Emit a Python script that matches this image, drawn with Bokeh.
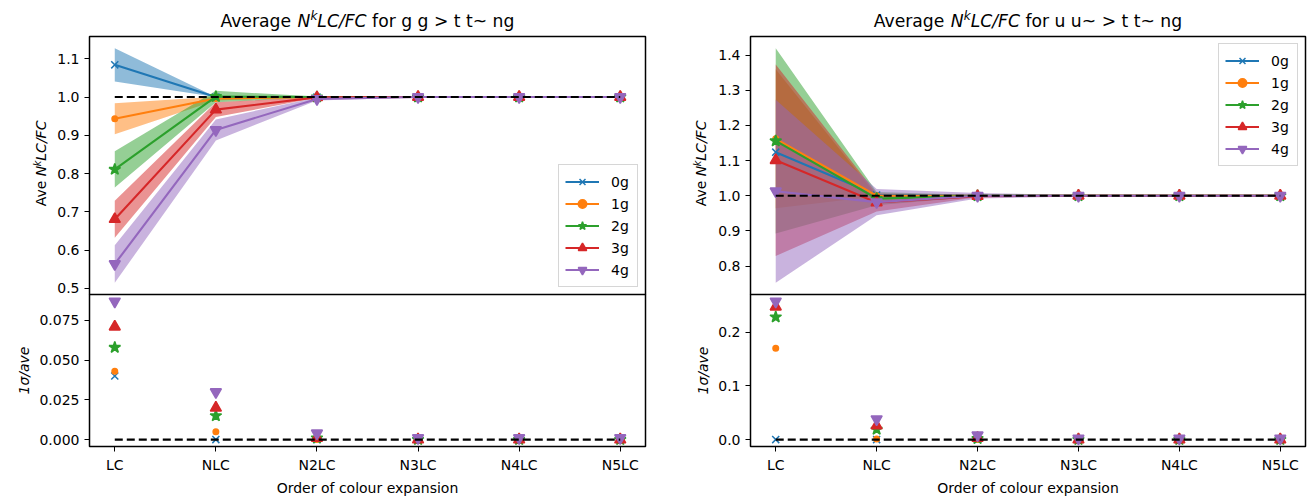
import math
from bokeh.plotting import figure
from bokeh.models import (Range1d, Label, Legend, LegendItem, SingleIntervalTicker,
                          FixedTicker, PrintfTickFormatter)
from bokeh.layouts import column, row
from bokeh.embed import file_html
from bokeh.resources import INLINE

# ---------------- data ----------------
orders = ["LC", "NLC", "N2LC", "N3LC", "N4LC", "N5LC"]
x_pos = [0, 1, 2, 3, 4, 5]
series_names = ["0g", "1g", "2g", "3g", "4g"]

# g g > t t~ ng : average N^kLC/FC
gg_ave_0g = [1.084, 1.000, 1.000, 1.000, 1.000, 1.000]
gg_ave_1g = [0.943, 0.996, 1.000, 1.000, 1.000, 1.000]
gg_ave_2g = [0.811, 1.001, 1.000, 1.000, 1.000, 1.000]
gg_ave_3g = [0.681, 0.967, 0.999, 1.000, 1.000, 1.000]
gg_ave_4g = [0.564, 0.914, 0.995, 1.000, 1.000, 1.000]
# g g > t t~ ng : 1 sigma / ave
gg_rel_0g = [0.040, 0.000, 0.000, 0.000, 0.000, 0.000]
gg_rel_1g = [0.043, 0.005, 0.000, 0.000, 0.000, 0.000]
gg_rel_2g = [0.058, 0.015, 0.001, 0.000, 0.000, 0.000]
gg_rel_3g = [0.071, 0.020, 0.001, 0.000, 0.000, 0.000]
gg_rel_4g = [0.087, 0.030, 0.004, 0.001, 0.001, 0.001]

# u u~ > t t~ ng : average N^kLC/FC
uu_ave_0g = [1.124, 1.002, 1.000, 1.000, 1.000, 1.000]
uu_ave_1g = [1.162, 1.000, 1.000, 1.000, 1.000, 1.000]
uu_ave_2g = [1.156, 0.992, 1.000, 1.000, 1.000, 1.000]
uu_ave_3g = [1.101, 0.981, 0.999, 1.000, 1.000, 1.000]
uu_ave_4g = [1.013, 0.982, 1.000, 1.000, 1.000, 1.000]
# u u~ > t t~ ng : 1 sigma / ave
uu_rel_0g = [0.000, 0.000, 0.000, 0.000, 0.000, 0.000]
uu_rel_1g = [0.170, 0.001, 0.000, 0.000, 0.000, 0.000]
uu_rel_2g = [0.228, 0.019, 0.002, 0.000, 0.000, 0.000]
uu_rel_3g = [0.247, 0.026, 0.003, 0.000, 0.000, 0.000]
uu_rel_4g = [0.257, 0.038, 0.008, 0.002, 0.002, 0.002]

ref_ratio = 1.0
ref_zero = 0.0

gg_ave = [gg_ave_0g, gg_ave_1g, gg_ave_2g, gg_ave_3g, gg_ave_4g]
gg_rel = [gg_rel_0g, gg_rel_1g, gg_rel_2g, gg_rel_3g, gg_rel_4g]
uu_ave = [uu_ave_0g, uu_ave_1g, uu_ave_2g, uu_ave_3g, uu_ave_4g]
uu_rel = [uu_rel_0g, uu_rel_1g, uu_rel_2g, uu_rel_3g, uu_rel_4g]

# ---------------- style ----------------
FONT = "DejaVu Sans"
COLORS = ["#1f77b4", "#ff7f0e", "#2ca02c", "#d62728", "#9467bd"]
MARKERS = ["x", "circle", "star", "triangle", "inverted_triangle"]
MSIZES = [10, 5.5, 12, 11, 11]
TICK_FS = 14
TITLE_FS = 17.2
SUB = 0.7
BASE_FIX = 0.3   # empirical baseline correction (fraction of font size)

# DejaVu Sans advance widths (em)
W = {'A': 0.684, 'v': 0.592, 'e': 0.615, 'r': 0.411, 'a': 0.613, 'g': 0.635, ' ': 0.318,
     'N': 0.748, 'k': 0.579, 'L': 0.557, 'C': 0.698, '/': 0.337, 'F': 0.575, 'f': 0.352,
     'o': 0.612, '>': 0.838, 't': 0.392, '~': 0.838, 'n': 0.634, 'u': 0.634}


def text_width(s, fs):
    return sum(W.get(ch, 0.6) for ch in s) * fs


def add_rich(p, pieces, cx, cy, vertical, base_fs):
    """Place a run of styled text pieces centred on (cx, cy) in pixel-like data units."""
    total = sum(text_width(t, fs) for t, st, fs, rise in pieces)
    fix = BASE_FIX * base_fs
    pos = -total / 2.0
    for t, st, fs, rise in pieces:
        lead = text_width(t[: len(t) - len(t.lstrip())], fs)
        kw = dict(text=t.strip(), text_font=FONT, text_font_size=f"{fs}px",
                  text_font_style=st, text_color="black", text_align="left",
                  text_baseline="alphabetic")
        if vertical:
            lab = Label(x=cx - rise - fix, y=cy + pos + lead, angle=math.pi / 2, **kw)
        else:
            lab = Label(x=cx + pos + lead, y=cy + rise + fix, **kw)
        p.add_layout(lab)
        pos += text_width(t, fs)


def text_canvas(w, h):
    p = figure(width=w, height=h, x_range=Range1d(0, w), y_range=Range1d(0, h),
               title=None, x_axis_location=None, y_axis_location=None,
               output_backend="svg", toolbar_location=None, min_border=0,
               min_border_left=0, min_border_right=0, min_border_top=0,
               min_border_bottom=0)
    p.outline_line_color = None
    p.grid.visible = False
    p.background_fill_color = "white"
    p.border_fill_color = "white"
    return p


def style_axis(ax, fmt, label=None, label_style="normal"):
    ax.axis_line_color = None
    ax.major_tick_out = 5
    ax.major_tick_in = 0
    ax.major_tick_line_color = "black"
    ax.major_tick_line_width = 1
    ax.minor_tick_line_color = None
    ax.major_label_text_font = FONT
    ax.major_label_text_font_size = f"{TICK_FS}px"
    ax.major_label_text_color = "black"
    ax.major_label_standoff = 5
    if fmt is not None:
        ax.formatter = PrintfTickFormatter(format=fmt)
    if label is not None:
        ax.axis_label = label
        ax.axis_label_text_font = FONT
        ax.axis_label_text_font_size = f"{TICK_FS}px"
        ax.axis_label_text_font_style = label_style
        ax.axis_label_text_color = "black"
        ax.axis_label_standoff = 4


def padded(lo, hi, frac=0.05):
    d = (hi - lo) * frac
    return lo - d, hi + d


TOP_PAD = 3      # px above the upper frame (inside the upper figure)
OVER = 6         # px the upper figure extends under the lower one
FRAME_H_TOP = 258
TITLE_H = 33
TITLE_BASE = 26  # title baseline, px from the top of the page


def make_column(ave, rel, width, bl, br, legend_loc, bot_tick, bot_fmt):
    xs, xe = padded(min(x_pos), max(x_pos))
    xr = Range1d(xs, xe)

    lows = [[a * (1 - r) for a, r in zip(av, rl)] for av, rl in zip(ave, rel)]
    ups = [[a * (1 + r) for a, r in zip(av, rl)] for av, rl in zip(ave, rel)]
    ys, ye = padded(min(min(v) for v in lows), max(max(v) for v in ups))

    ylab_w = 50
    top = figure(width=width - ylab_w, height=TOP_PAD + FRAME_H_TOP + OVER, x_range=xr,
                 y_range=Range1d(ys, ye), title=None, x_axis_location=None,
                 output_backend="svg", toolbar_location=None,
                 min_border_left=bl - ylab_w, min_border_right=br,
                 min_border_top=TOP_PAD, min_border_bottom=OVER)
    for i in range(len(series_names)):
        top.varea(x=x_pos, y1=lows[i], y2=ups[i], fill_color=COLORS[i], fill_alpha=0.5)
    items = []
    for i, name in enumerate(series_names):
        lr = top.line(x_pos, ave[i], line_color=COLORS[i], line_width=2.1)
        sr = top.scatter(x_pos, ave[i], marker=MARKERS[i], size=MSIZES[i],
                         fill_color=COLORS[i], line_color=COLORS[i], line_width=1.5)
        items.append(LegendItem(label=name, renderers=[lr, sr]))
    top.line([x_pos[0], x_pos[-1]], [ref_ratio, ref_ratio], line_color="black",
             line_dash="8 4", line_width=2.1)

    leg = Legend(items=items, location=legend_loc, margin=7, padding=6, spacing=1,
                 glyph_width=34, glyph_height=21, label_height=21, label_standoff=12,
                 label_text_font=FONT, label_text_font_size=f"{TICK_FS}px",
                 label_text_color="black",
                 background_fill_color="white", background_fill_alpha=0.8,
                 border_line_color="#cccccc", border_line_alpha=0.8, border_line_width=1)
    top.add_layout(leg)

    bot = figure(width=width, height=204, x_range=xr, title=None, output_backend="svg",
                 toolbar_location=None, min_border_left=bl, min_border_right=br,
                 min_border_top=0, min_border_bottom=49)
    bys, bye = padded(min(min(v) for v in rel), max(max(v) for v in rel))
    bot.y_range = Range1d(bys, bye)
    for i, name in enumerate(series_names):
        bot.scatter(x_pos, rel[i], marker=MARKERS[i], size=MSIZES[i],
                    fill_color=COLORS[i], line_color=COLORS[i], line_width=1.5)
    bot.line([x_pos[0], x_pos[-1]], [ref_zero, ref_zero], line_color="black",
             line_dash="8 4", line_width=2.1)

    for p in (top, bot):
        p.outline_line_color = "black"
        p.outline_line_width = 1.5
        p.outline_line_alpha = 1.0
        p.xgrid.grid_line_color = None
        p.ygrid.grid_line_color = None
        p.background_fill_color = "white"
    top.border_fill_color = "white"
    bot.border_fill_alpha = 0.0

    style_axis(top.yaxis[0], "%.1f")
    top.yaxis[0].ticker = SingleIntervalTicker(interval=0.1, num_minor_ticks=0)
    style_axis(bot.yaxis[0], bot_fmt, label="1σ/ave", label_style="italic")
    bot.yaxis[0].ticker = SingleIntervalTicker(interval=bot_tick, num_minor_ticks=0)
    style_axis(bot.xaxis[0], None, label="Order of colour expansion")
    bot.xaxis[0].ticker = FixedTicker(ticks=x_pos)
    bot.xaxis[0].major_label_overrides = {x: lab for x, lab in zip(x_pos, orders)}

    # y label of the upper panel: "Ave N^kLC/FC"
    ylab = text_canvas(ylab_w, TOP_PAD + FRAME_H_TOP + OVER)
    ylab_pieces = [("Ave ", "normal", TICK_FS, 0),
                   ("N", "italic", TICK_FS, 0),
                   ("k", "italic", round(TICK_FS * SUB, 1), 4),
                   ("LC/FC", "italic", TICK_FS, 0)]
    add_rich(ylab, ylab_pieces, 45, OVER + FRAME_H_TOP / 2.0, vertical=True,
             base_fs=TICK_FS)
    return ylab, top, bot


def title_pieces(proc):
    return [("Average ", "normal", TITLE_FS, 0),
            ("N", "italic", TITLE_FS, 0),
            ("k", "italic", round(TITLE_FS * SUB, 1), 5),
            ("LC/FC", "italic", TITLE_FS, 0),
            (" for " + proc, "normal", TITLE_FS, 0)]


yl_l, tl, bl_ = make_column(gg_ave, gg_rel, 660, 89, 15, "bottom_right", 0.025, "%.3f")
yl_r, tr, br_ = make_column(uu_ave, uu_rel, 653, 90, 8, "top_right", 0.1, "%.1f")

titles = text_canvas(1313, TITLE_H)
add_rich(titles, title_pieces("g g > t t~ ng"), 89 + 556 / 2.0, TITLE_H - TITLE_BASE,
         vertical=False, base_fs=TITLE_FS)
add_rich(titles, title_pieces("u u~ > t t~ ng"), 660 + 90 + 555 / 2.0,
         TITLE_H - TITLE_BASE, vertical=False, base_fs=TITLE_FS)

layout = column(titles,
                row(yl_l, tl, yl_r, tr),
                row(bl_, br_, margin=(-OVER, 0, 0, 0)),
                spacing=0)

open("out.html", "w").write(file_html(layout, INLINE))
